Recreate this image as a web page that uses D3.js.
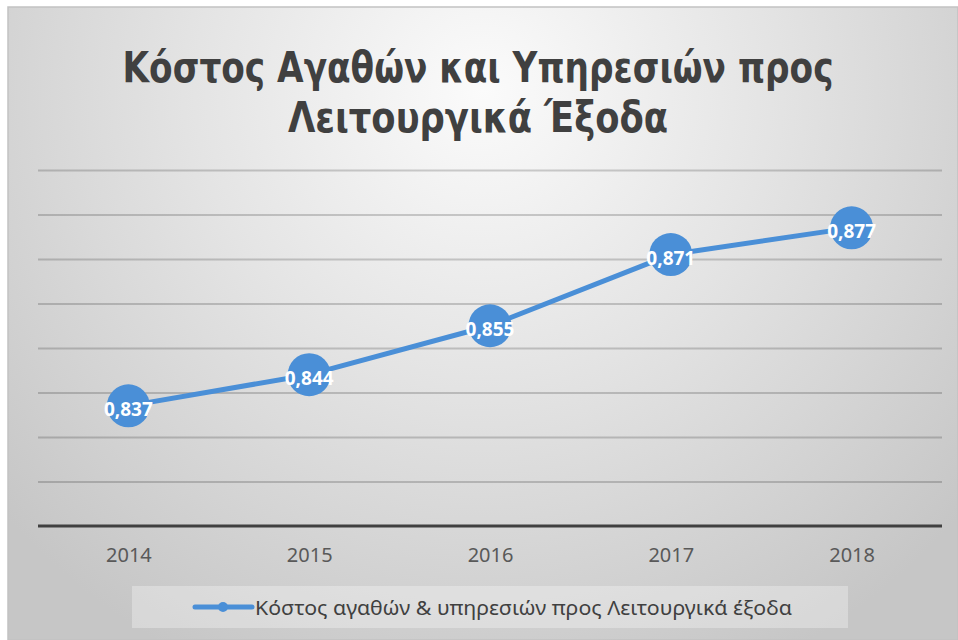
<!DOCTYPE html>
<html>
<head>
<meta charset="utf-8">
<script src="https://cdn.jsdelivr.net/npm/d3@7"></script>
<style>
  body { margin: 0; background: #fff; }
  svg { display: block; }
</style>
</head>
<body>
<div id="chart"></div>
<script>
var years = ["2014", "2015", "2016", "2017", "2018"];
var values = [0.837, 0.844, 0.855, 0.871, 0.877];
var valueLabels = ["0,837", "0,844", "0,855", "0,871", "0,877"];
var yTicks = [0.81, 0.82, 0.83, 0.84, 0.85, 0.86, 0.87, 0.88, 0.89];
var titleLines = ["Κόστος Αγαθών και Υπηρεσιών προς", "Λειτουργικά Έξοδα"];
var seriesName = "Κόστος αγαθών & υπηρεσιών προς Λειτουργικά έξοδα";

var W = 958, H = 640;
var blue = "#4a8fd7";
var font = "'Noto Sans', 'Open Sans', sans-serif";
var titleFont = "'DejaVu Sans Condensed', 'DejaVu Sans', sans-serif";

var svg = d3.select("#chart")
  .append("svg")
    .attr("width", W)
    .attr("height", H);

// background gradient
var defs = svg.append("defs");
var grad = defs.append("radialGradient")
    .attr("id", "bg")
    .attr("gradientUnits", "userSpaceOnUse")
    .attr("cx", 483).attr("cy", 90)
    .attr("r", 640);
grad.append("stop").attr("offset", "0%").attr("stop-color", "#fbfbfb");
grad.append("stop").attr("offset", "45%").attr("stop-color", "#e4e4e4");
grad.append("stop").attr("offset", "100%").attr("stop-color", "#c6c6c6");

svg.append("rect")
    .attr("x", 8).attr("y", 7)
    .attr("width", W - 8).attr("height", H - 7)
    .attr("fill", "url(#bg)")
    .attr("stroke", "#c2c2c2")
    .attr("stroke-width", 1.5);

var margin = { left: 38, right: 16, top: 170, bottom: 114 };

var x = d3.scalePoint()
    .domain(years)
    .range([margin.left, W - margin.right])
    .padding(0.5);

var y = d3.scaleLinear()
    .domain([0.81, 0.89])
    .range([H - margin.bottom, margin.top]);

// gridlines
svg.append("g")
    .attr("transform", "translate(" + margin.left + ",0)")
    .call(d3.axisLeft(y).tickValues(yTicks.slice(1))
        .tickSize(-(W - margin.right - margin.left)).tickFormat(""))
    .call(function(g) { g.select(".domain").remove(); })
    .selectAll("line")
      .attr("stroke", "#000")
      .attr("stroke-opacity", 0.18)
      .attr("stroke-width", 2);

// x axis
var xAxis = svg.append("g")
    .attr("transform", "translate(0," + y(yTicks[0]) + ")")
    .call(d3.axisBottom(x).tickSize(0).tickPadding(22));
xAxis.select(".domain")
    .attr("stroke", "#404040")
    .attr("stroke-width", 3)
    .attr("d", "M" + margin.left + ",0H" + (W - margin.right));
xAxis.selectAll("text")
    .attr("font-family", font)
    .attr("font-size", 20)
    .attr("fill", "#595959");

// line
var line = d3.line()
    .x(function(d, i) { return x(years[i]); })
    .y(function(d) { return y(d); });

svg.append("path")
    .datum(values)
    .attr("d", line)
    .attr("fill", "none")
    .attr("stroke", blue)
    .attr("stroke-width", 5)
    .attr("stroke-linejoin", "round");

svg.append("g")
  .selectAll("circle")
  .data(values)
  .enter()
  .append("circle")
    .attr("cx", function(d, i) { return x(years[i]); })
    .attr("cy", function(d) { return y(d); })
    .attr("r", 21.5)
    .attr("fill", blue);

svg.append("g")
  .selectAll("text")
  .data(values)
  .enter()
  .append("text")
    .attr("x", function(d, i) { return x(years[i]); })
    .attr("y", function(d) { return y(d) + 3; })
    .attr("text-anchor", "middle")
    .attr("dominant-baseline", "central")
    .attr("font-family", font)
    .attr("font-weight", "bold")
    .attr("font-size", 19)
    .attr("fill", "#fff")
    .text(function(d, i) { return valueLabels[i]; });

// title
svg.append("g")
  .selectAll("text")
  .data(titleLines)
  .enter()
  .append("text")
    .attr("x", 478)
    .attr("y", function(d, i) { return 82 + i * 50; })
    .attr("text-anchor", "middle")
    .attr("font-family", titleFont)
    .attr("font-weight", "bold")
    .attr("font-size", 42)
    .attr("fill", "#404040")
    .attr("textLength", function(d, i) { return i === 0 ? 711 : 380; })
    .attr("lengthAdjust", "spacingAndGlyphs")
    .text(function(d) { return d; });

// legend
var legend = svg.append("g");
legend.append("rect")
    .attr("x", 132).attr("y", 586)
    .attr("width", 716).attr("height", 42)
    .attr("fill", "#fff")
    .attr("fill-opacity", 0.3);
legend.append("line")
    .attr("x1", 195).attr("x2", 252)
    .attr("y1", 607).attr("y2", 607)
    .attr("stroke", blue)
    .attr("stroke-width", 5)
    .attr("stroke-linecap", "round");
legend.append("circle")
    .attr("cx", 223).attr("cy", 607)
    .attr("r", 5)
    .attr("fill", blue);
legend.append("text")
    .attr("x", 255).attr("y", 607)
    .attr("dominant-baseline", "central")
    .attr("font-family", font)
    .attr("font-size", 20)
    .attr("fill", "#404040")
    .attr("textLength", 537)
    .attr("lengthAdjust", "spacingAndGlyphs")
    .text(seriesName);
</script>
</body>
</html>
